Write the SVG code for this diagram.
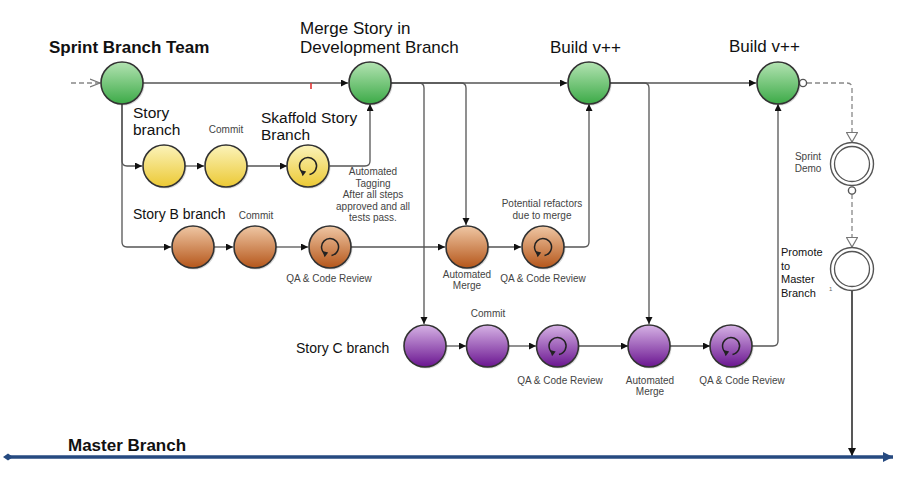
<svg xmlns="http://www.w3.org/2000/svg" width="910" height="491" viewBox="0 0 910 491">
<style>
text{font-family:"Liberation Sans",Arial,sans-serif;fill:#111}
.big{font-size:17px}
.bold{font-weight:bold}
.mid{font-size:15.5px}
.sm{font-size:10px;fill:#444;text-anchor:middle}
.node{stroke:#333;stroke-width:1.6}
.shadow{fill:#000;opacity:0.15}
.ring{fill:#fff;stroke:#555;stroke-width:1.4}
.edge{fill:none;stroke:#555;stroke-width:1.3}
.dash{fill:none;stroke:#888;stroke-width:1.3;stroke-dasharray:5 3}
.loop{fill:none;stroke:#222;stroke-width:1.5}
</style>
<defs>
<linearGradient id="gG" x1="0" y1="0" x2="0" y2="1"><stop offset="0" stop-color="#b3e3b2"/><stop offset="1" stop-color="#3caa47"/></linearGradient>
<linearGradient id="gY" x1="0" y1="0" x2="0" y2="1"><stop offset="0" stop-color="#fbf3ba"/><stop offset="1" stop-color="#ecc934"/></linearGradient>
<linearGradient id="gO" x1="0" y1="0" x2="0" y2="1"><stop offset="0" stop-color="#efc7a4"/><stop offset="1" stop-color="#b5561a"/></linearGradient>
<linearGradient id="gP" x1="0" y1="0" x2="0" y2="1"><stop offset="0" stop-color="#d6b2e5"/><stop offset="1" stop-color="#6a1590"/></linearGradient>
<marker id="arr" markerUnits="userSpaceOnUse" markerWidth="8" markerHeight="8" refX="7" refY="3.5" orient="auto"><path d="M0,0 L7,3.5 L0,7 z" fill="#111"/></marker>
<marker id="arrB" markerUnits="userSpaceOnUse" markerWidth="9" markerHeight="9" refX="8" refY="4" orient="auto"><path d="M0,0 L8,4 L0,8 z" fill="#111"/></marker>
<marker id="tri" markerUnits="userSpaceOnUse" markerWidth="12" markerHeight="12" refX="10" refY="6" orient="auto"><path d="M0.5,0.5 L10,6 L0.5,11.5 z" fill="#fff" stroke="#777" stroke-width="1.2"/></marker>
<marker id="chev" markerUnits="userSpaceOnUse" markerWidth="12" markerHeight="10" refX="10" refY="5" orient="auto"><path d="M0,1 L10,5 L0,9" fill="none" stroke="#777" stroke-width="1.2"/></marker>
<marker id="mArr" markerUnits="userSpaceOnUse" markerWidth="12" markerHeight="12" refX="10" refY="5" orient="auto"><path d="M0,0 L10,5 L0,10 z" fill="#264a80"/></marker>
<marker id="mDia" markerUnits="userSpaceOnUse" markerWidth="10" markerHeight="10" refX="5" refY="5" orient="auto"><path d="M0,5 L5,1.5 L10,5 L5,8.5 z" fill="#264a80"/></marker>
<g id="loopIcon"><path class="loop" d="M-4.2,7.4 A8.5,8.5 0 1 1 1.5,8.4"/><path d="M-7.6,4 L-1.8,5.6 L-5.4,10.2 z" fill="#222"/></g>
</defs>

<rect width="910" height="491" fill="#fff"/>

<g id="connectors">
<path class="dash" d="M71 83 H100" marker-end="url(#chev)"/>
<path class="edge" d="M143 83 H348" marker-end="url(#arr)"/>
<path class="edge" d="M391 83 H567" marker-end="url(#arr)"/>
<path class="edge" d="M610 83 H756" marker-end="url(#arr)"/>
<path class="edge" d="M391 83 H419 Q424 83 424 88 V324" marker-end="url(#arr)"/>
<path class="edge" d="M391 83 H461 Q466 83 466 88 V225" marker-end="url(#arr)"/>
<path class="edge" d="M610 83 H644 Q649 83 649 88 V324" marker-end="url(#arr)"/>
<path class="edge" d="M122 104 V161 Q122 166 127 166 H142" marker-end="url(#arr)"/>
<path class="edge" d="M122 104 V242 Q122 247 127 247 H171" marker-end="url(#arr)"/>
<path class="edge" d="M185 166 H204" marker-end="url(#arr)"/>
<path class="edge" d="M247 166 H287" marker-end="url(#arr)"/>
<path class="edge" d="M329.5 166 H365 Q370 166 370 161 V104" marker-end="url(#arr)"/>
<path class="edge" d="M214 247 H233" marker-end="url(#arr)"/>
<path class="edge" d="M276 247 H308" marker-end="url(#arr)"/>
<path class="edge" d="M351 247 H445" marker-end="url(#arr)"/>
<path class="edge" d="M488 247 H521" marker-end="url(#arr)"/>
<path class="edge" d="M564 247 H584 Q589 247 589 242 V104" marker-end="url(#arr)"/>
<path class="edge" d="M446 346 H466" marker-end="url(#arr)"/>
<path class="edge" d="M509 346 H536" marker-end="url(#arr)"/>
<path class="edge" d="M579 346 H628" marker-end="url(#arr)"/>
<path class="edge" d="M670 346 H710" marker-end="url(#arr)"/>
<path class="edge" d="M752 346 H773 Q778 346 778 341 V104" marker-end="url(#arr)"/>
<path class="dash" d="M807 83 H847 Q852 83 852 88 V142" marker-end="url(#tri)"/>
<circle class="ring" cx="803" cy="83" r="3.6"/>
<path class="dash" d="M852 194 V247" marker-end="url(#tri)"/>
<circle class="ring" cx="852" cy="190.5" r="3.6"/>
<path fill="none" stroke="#111" stroke-width="1.4" d="M852 291 V456" marker-end="url(#arrB)"/>
<path fill="none" stroke="#264a80" stroke-width="3.5" d="M8 457 H893" marker-start="url(#mDia)" marker-end="url(#mArr)"/>
<line x1="311" y1="83" x2="311" y2="89" stroke="#e03434" stroke-width="1.6"/>
</g>

<g id="title"><text class="big bold" x="49" y="53">Sprint Branch Team</text></g>

<g id="start"><circle class="shadow" cx="123.5" cy="84.5" r="21"/><circle class="node" cx="122" cy="83" r="21" fill="url(#gG)"/></g>
<g id="merge-dev"><circle class="shadow" cx="371.5" cy="84.5" r="21"/><circle class="node" cx="370" cy="83" r="21" fill="url(#gG)"/>
<text class="big" x="300" y="34">Merge Story in</text><text class="big" x="300" y="53">Development Branch</text></g>
<g id="build1"><circle class="shadow" cx="590.5" cy="84.5" r="21"/><circle class="node" cx="589" cy="83" r="21" fill="url(#gG)"/>
<text class="big" x="550" y="53">Build v++</text></g>
<g id="build2"><circle class="shadow" cx="779.5" cy="84.5" r="21"/><circle class="node" cx="778" cy="83" r="21" fill="url(#gG)"/>
<text class="big" x="729" y="52">Build v++</text></g>

<g id="story-branch"><circle class="shadow" cx="165.5" cy="167.5" r="21"/><circle class="node" cx="164" cy="166" r="21" fill="url(#gY)"/>
<text class="mid" x="133" y="118">Story</text><text class="mid" x="133" y="135">branch</text></g>
<g id="commit-a"><circle class="shadow" cx="227.5" cy="167.5" r="21"/><circle class="node" cx="226" cy="166" r="21" fill="url(#gY)"/>
<text class="sm" x="226" y="133">Commit</text></g>
<g id="skaffold"><circle class="shadow" cx="309.5" cy="167.5" r="21"/><circle class="node" cx="308" cy="166" r="21" fill="url(#gY)"/>
<use href="#loopIcon" x="308" y="166"/>
<text class="mid" x="261" y="123">Skaffold Story</text><text class="mid" x="261" y="140">Branch</text>
<text class="sm" x="373" y="175">Automated</text><text class="sm" x="373" y="186.5">Tagging</text><text class="sm" x="373" y="198">After all steps</text><text class="sm" x="373" y="209.5">approved and all</text><text class="sm" x="373" y="221">tests pass.</text></g>

<g id="story-b"><circle class="shadow" cx="194.5" cy="248.5" r="21"/><circle class="node" cx="193" cy="247" r="21" fill="url(#gO)"/>
<text style="font-size:14px" x="133" y="219">Story B branch</text></g>
<g id="commit-b"><circle class="shadow" cx="256.5" cy="248.5" r="21"/><circle class="node" cx="255" cy="247" r="21" fill="url(#gO)"/>
<text class="sm" x="256" y="218.5">Commit</text></g>
<g id="qa-b1"><circle class="shadow" cx="331.5" cy="248.5" r="21"/><circle class="node" cx="330" cy="247" r="21" fill="url(#gO)"/>
<use href="#loopIcon" x="330" y="247"/>
<text class="sm" x="329" y="282">QA &amp; Code Review</text></g>
<g id="merge-b"><circle class="shadow" cx="468.5" cy="248.5" r="21"/><circle class="node" cx="467" cy="247" r="21" fill="url(#gO)"/>
<text class="sm" x="467" y="277.5">Automated</text><text class="sm" x="467" y="288.5">Merge</text></g>
<g id="qa-b2"><circle class="shadow" cx="544.5" cy="248.5" r="21"/><circle class="node" cx="543" cy="247" r="21" fill="url(#gO)"/>
<use href="#loopIcon" x="543" y="247"/>
<text class="sm" x="543" y="282">QA &amp; Code Review</text>
<text class="sm" x="542" y="207">Potential refactors</text><text class="sm" x="542" y="218.5">due to merge</text></g>

<g id="story-c"><circle class="shadow" cx="426.5" cy="347.5" r="21"/><circle class="node" cx="425" cy="346" r="21" fill="url(#gP)"/>
<text style="font-size:14px" x="296" y="353">Story C branch</text></g>
<g id="commit-c"><circle class="shadow" cx="489" cy="347.5" r="21"/><circle class="node" cx="487.5" cy="346" r="21" fill="url(#gP)"/>
<text class="sm" x="488" y="317">Commit</text></g>
<g id="qa-c1"><circle class="shadow" cx="559" cy="347.5" r="21"/><circle class="node" cx="557.5" cy="346" r="21" fill="url(#gP)"/>
<use href="#loopIcon" x="557.5" y="346"/>
<text class="sm" x="560" y="383.5">QA &amp; Code Review</text></g>
<g id="merge-c"><circle class="shadow" cx="650.5" cy="347.5" r="21"/><circle class="node" cx="649" cy="346" r="21" fill="url(#gP)"/>
<text class="sm" x="650" y="383.5">Automated</text><text class="sm" x="650" y="394.5">Merge</text></g>
<g id="qa-c2"><circle class="shadow" cx="732.5" cy="347.5" r="21"/><circle class="node" cx="731" cy="346" r="21" fill="url(#gP)"/>
<use href="#loopIcon" x="731" y="346"/>
<text class="sm" x="742" y="383.5">QA &amp; Code Review</text></g>

<g id="sprint-demo"><circle class="ring" cx="852" cy="164" r="21.5"/><circle fill="none" stroke="#555" stroke-width="1.3" cx="852" cy="164" r="17.5"/>
<text class="sm" x="808" y="160">Sprint</text><text class="sm" x="808" y="171.5">Demo</text></g>
<g id="promote"><circle class="ring" cx="852" cy="269" r="21.5"/><circle fill="none" stroke="#555" stroke-width="1.3" cx="852" cy="269" r="17.5"/>
<text style="font-size:11px" x="781" y="256">Promote</text><text style="font-size:11px" x="781" y="269.5">to</text><text style="font-size:11px" x="781" y="283">Master</text><text style="font-size:11px" x="781" y="296.5">Branch</text>
<text style="font-size:6px;fill:#666" x="829" y="291">1</text></g>

<g id="master"><text class="bold" style="font-size:17px" x="68" y="451">Master  Branch</text></g>
</svg>
